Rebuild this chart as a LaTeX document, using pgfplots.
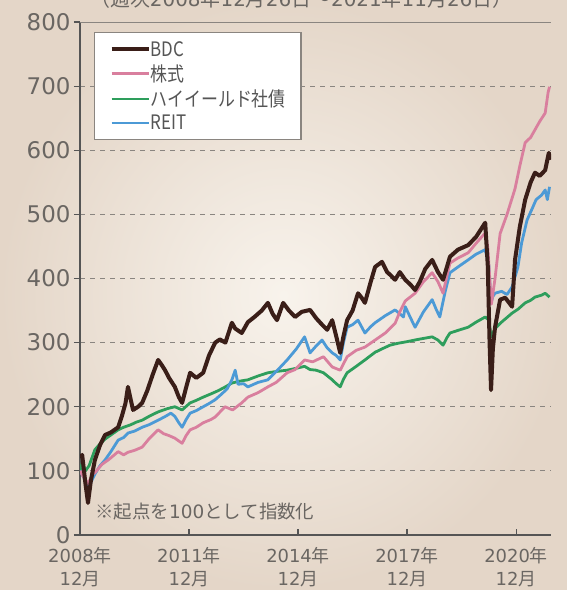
\documentclass[border=0pt]{standalone}
\usepackage{fontspec}
\setmainfont{Noto Sans CJK JP}
\newfontfamily\dv{DejaVu Sans}
\newfontfamily\leg[FakeStretch=0.85]{Noto Sans CJK JP}
\usepackage{pgfplots}
\pgfplotsset{compat=1.18}

\definecolor{bdc}{HTML}{3A1E18}
\definecolor{kabu}{HTML}{D97F9E}
\definecolor{hy}{HTML}{2E9E5C}
\definecolor{reit}{HTML}{4C9AD6}
\definecolor{bgin}{HTML}{F8F3EC}
\definecolor{bgout}{HTML}{E4D6C8}
\definecolor{axisgray}{HTML}{555555}
\definecolor{gridgray}{HTML}{8A8580}
\definecolor{labelgray}{HTML}{6A6662}

\begin{document}
\begin{tikzpicture}
\clip (-80bp,-55bp) rectangle (487bp,535bp);
\shade[inner color=bgin, outer color=bgout] (-80bp,-55bp) rectangle (487bp,535bp);
\node[anchor=base west, inner sep=0pt, text=labelgray, font=\fontsize{20}{22}\selectfont]
  at (10bp,528bp) {（週次{\dv 2008}年{\dv 12}月{\dv 26}日～{\dv 2021}年{\dv 11}月{\dv 26}日）};

\begin{axis}[
    at={(0,0)}, anchor=south west,
    scale only axis,
    width=471bp, height=513bp,
    xmin=0, xmax=12.96,
    ymin=0, ymax=800,
    axis lines*=left,
    axis line style={draw=axisgray, line width=1.5bp},
    xtick={0,3,6,9,12},
    xticklabels={{{\dv 2008}年\\{\dv 12}月},{{\dv 2011}年\\{\dv 12}月},{{\dv 2014}年\\{\dv 12}月},{{\dv 2017}年\\{\dv 12}月},{{\dv 2020}年\\{\dv 12}月}},
    ytick={0,100,...,800},
    xtick align=inside,
    ytick align=outside,
    major tick length=6bp,
    tick style={draw=axisgray, line width=1.2bp},
    ymajorgrids,
    grid style={draw=gridgray, line width=1bp, dash pattern=on 5bp off 5bp},
    /pgf/number format/assume math mode=true,
    x tick label style={align=center, font=\fontsize{18}{23}\selectfont, text=labelgray, inner sep=1bp, yshift=-11bp},
    y tick label style={font=\dv\fontsize{23}{25}\selectfont, text=labelgray},
    legend style={at={(0.0297,0.9805)}, anchor=north west,
        draw=gridgray, line width=1.4bp, fill=white,
        font=\leg\fontsize{20}{22}\selectfont, text=axisgray,
        inner xsep=15bp, inner ysep=5bp,
        nodes={inner xsep=0bp, inner ysep=3.5bp},
        /tikz/every even column/.append style={column sep=5bp}},
    legend cell align=left,
    legend image code/.code={\draw[#1] (0bp,0bp) -- (37bp,0bp);},
]

\addlegendimage{bdc, line width=4bp}\addlegendentry{BDC}
\addlegendimage{kabu, line width=2.8bp}\addlegendentry{株式}
\addlegendimage{hy, line width=2.8bp}\addlegendentry{ハイイールド社債}
\addlegendimage{reit, line width=2.8bp}\addlegendentry{REIT}

% ハイイールド社債
\addplot[forget plot, hy, line width=2.8bp, line join=round] coordinates {
(0,100)(0.06,112)(0.15,100)(0.25,108)(0.41,133)(0.55,142)(0.7,150)(0.9,158)(1.05,164)
(1.2,168)(1.4,172)(1.55,176)(1.71,179)(1.9,185)(2.15,192)(2.4,197)(2.61,200)(2.81,195)
(3.03,206)(3.2,210)(3.39,215)(3.6,220)(3.8,225)(4.0,231)(4.18,237)(4.4,240)(4.62,242)
(4.9,248)(5.17,253)(5.4,255)(5.7,257)(5.95,260)(6.18,263)(6.33,258)(6.5,257)(6.7,253)
(6.94,242)(7.05,236)(7.16,231)(7.25,243)(7.35,253)(7.6,263)(7.84,273)(8.12,285)(8.3,290)
(8.53,296)(8.75,299)(8.95,301)(9.3,305)(9.69,309)(9.85,304)(9.99,296)(10.1,308)(10.18,315)
(10.45,320)(10.68,324)(10.9,332)(11.15,340)(11.25,335)(11.31,309)(11.36,315)(11.42,322)
(11.6,332)(11.89,346)(12.05,352)(12.25,362)(12.4,366)(12.52,371)(12.7,374)(12.8,377)(12.92,371)
};

% REIT
\addplot[forget plot, reit, line width=2.8bp, line join=round] coordinates {
(0,100)(0.1,90)(0.22,75)(0.3,82)(0.41,95)(0.55,108)(0.69,117)(0.85,130)(1.05,148)
(1.2,152)(1.32,159)(1.5,162)(1.71,168)(1.9,172)(2.15,179)(2.35,185)(2.5,190)(2.61,185)
(2.72,175)(2.81,168)(2.92,180)(3.03,190)(3.2,194)(3.39,200)(3.55,205)(3.72,211)(3.9,220)
(4.05,228)(4.18,242)(4.27,257)(4.35,235)(4.5,236)(4.62,231)(4.9,238)(5.17,242)(5.45,258)
(5.7,273)(5.95,290)(6.18,309)(6.33,284)(6.5,295)(6.66,304)(6.8,292)(6.94,284)(7.05,280)
(7.16,273)(7.25,300)(7.35,324)(7.5,328)(7.65,335)(7.84,315)(8.0,325)(8.12,331)(8.4,342)
(8.67,351)(8.8,345)(8.9,340)(8.95,356)(9.1,338)(9.22,324)(9.45,348)(9.69,367)(9.8,352)
(9.9,340)(10.05,380)(10.18,409)(10.45,420)(10.68,429)(10.9,438)(11.15,445)(11.25,420)
(11.31,362)(11.36,372)(11.42,377)(11.6,380)(11.75,375)(11.89,387)(12.05,418)(12.15,455)
(12.3,491)(12.45,510)(12.55,523)(12.7,530)(12.8,538)(12.86,523)(12.92,543)
};

% 株式
\addplot[forget plot, kabu, line width=2.8bp, line join=round] coordinates {
(0,100)(0.1,90)(0.22,80)(0.35,95)(0.41,97)(0.6,110)(0.8,118)(1.05,130)(1.2,125)(1.32,129)
(1.5,132)(1.71,137)(1.9,150)(2.15,164)(2.3,158)(2.45,155)(2.61,151)(2.81,143)(2.92,155)
(3.03,164)(3.2,168)(3.39,175)(3.6,180)(3.72,184)(3.99,200)(4.2,195)(4.45,206)(4.62,215)
(4.9,222)(5.17,231)(5.4,238)(5.7,253)(5.92,258)(6.18,273)(6.4,270)(6.7,278)(6.85,268)
(6.94,262)(7.16,257)(7.35,278)(7.6,288)(7.84,293)(8.12,304)(8.4,315)(8.67,330)(8.8,348)
(8.95,365)(9.22,377)(9.45,395)(9.69,409)(9.85,395)(9.99,377)(10.1,405)(10.18,424)
(10.4,432)(10.68,440)(10.9,455)(11.15,471)(11.22,449)(11.32,360)(11.42,400)(11.56,470)
(11.75,500)(11.97,540)(12.1,575)(12.25,612)(12.4,620)(12.52,632)(12.65,645)(12.8,658)
(12.88,690)(12.92,699)
};

% BDC
\addplot[forget plot, bdc, line width=4bp, line join=round] coordinates {
(0,120)(0.06,125)(0.15,80)(0.22,50)(0.3,85)(0.41,117)(0.55,140)(0.69,156)(0.85,160)
(1.05,168)(1.15,185)(1.25,205)(1.32,231)(1.4,210)(1.46,195)(1.6,200)(1.71,206)(1.85,225)
(2.0,250)(2.15,273)(2.25,265)(2.34,257)(2.45,245)(2.61,231)(2.72,215)(2.81,206)(2.92,230)
(3.03,253)(3.2,245)(3.39,253)(3.55,280)(3.72,300)(3.85,305)(4.0,300)(4.18,331)(4.27,322)
(4.45,315)(4.62,332)(4.8,340)(5.0,350)(5.17,362)(5.3,345)(5.42,335)(5.59,362)(5.75,350)
(5.92,340)(6.1,348)(6.33,351)(6.5,338)(6.66,328)(6.8,320)(6.94,335)(7.05,310)(7.16,284)
(7.25,310)(7.35,335)(7.5,350)(7.65,377)(7.75,370)(7.84,362)(8.0,395)(8.12,418)(8.31,426)
(8.45,410)(8.53,406)(8.67,398)(8.8,410)(8.95,398)(9.1,390)(9.22,382)(9.35,395)(9.5,415)
(9.69,429)(9.85,410)(9.99,398)(10.18,434)(10.4,445)(10.68,452)(10.9,465)(11.15,487)
(11.22,420)(11.27,300)(11.31,226)(11.36,290)(11.42,324)(11.56,367)(11.7,370)(11.89,356)
(11.97,429)(12.1,480)(12.25,523)(12.4,550)(12.52,565)(12.65,560)(12.8,569)(12.9,596)(12.93,585)
};

\draw[gridgray, line width=1.8bp] (axis cs:0,800) -- (axis cs:12.96,800);
\node[anchor=west, inner sep=0pt, text=labelgray, font=\fontsize{18.5}{20}\selectfont]
  at (axis cs:0.42,37) {※起点を{\dv 100}として指数化};
\end{axis}
\end{tikzpicture}
\end{document}
